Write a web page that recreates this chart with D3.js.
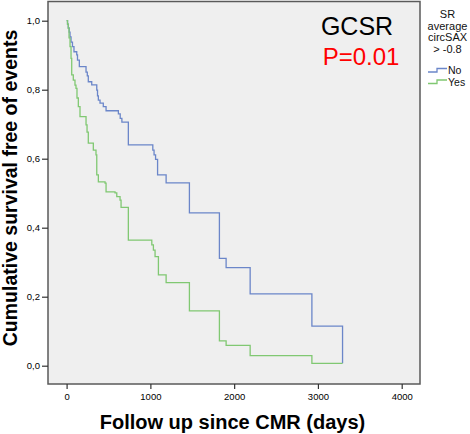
<!DOCTYPE html>
<html><head><meta charset="utf-8">
<script src="https://cdn.jsdelivr.net/npm/d3@7"></script>
<style>html,body{margin:0;padding:0;background:#fff}svg{display:block}</style>
</head><body><svg id="c" width="470" height="434"></svg>
<script>
const xTicks = [0, 1000, 2000, 3000, 4000];
const yTicks = [0, 0.2, 0.4, 0.6, 0.8, 1.0];
const yTickLabels = ["0,0", "0,2", "0,4", "0,6", "0,8", "1,0"];
const seriesNames = ["No", "Yes"];
const noTimes = [0,11,20,31,41,53,70,88,121,130,152,232,247,259,300,360,369,379,399,438,471,618,640,660,737,1029,1044,1062,1086,1188,1466,1824,1904,2191,2928,3294];
const noSurv = [1,0.990,0.979,0.967,0.953,0.938,0.925,0.910,0.901,0.886,0.867,0.851,0.840,0.823,0.814,0.799,0.782,0.770,0.761,0.751,0.739,0.730,0.717,0.706,0.640,0.625,0.611,0.598,0.553,0.530,0.443,0.311,0.284,0.208,0.115,0.007];
const yesTimes = [0,11,20,29,41,53,61,80,100,112,124,140,160,232,244,259,319,351,360,379,459,471,578,599,638,650,737,1017,1036,1056,1096,1188,1466,1824,1904,2191,2928,3294];
const yesSurv = [1,0.990,0.978,0.950,0.925,0.891,0.843,0.828,0.813,0.804,0.776,0.751,0.722,0.698,0.677,0.645,0.625,0.611,0.553,0.533,0.529,0.504,0.501,0.490,0.480,0.459,0.364,0.350,0.335,0.316,0.263,0.241,0.159,0.072,0.059,0.029,0.007,0.007];
const colors = ["#6b86c9", "#80c872"];

const font = "'Liberation Sans', Arial, sans-serif";
const svg = d3.select("#c");
const frame = {l: 48, t: 1.5, r: 420, b: 384};
const x = d3.scaleLinear().domain([0, 4000]).range([66.6, 401.7]);
const y = d3.scaleLinear().domain([0, 1]).range([365.7, 20.7]);

svg.append("rect").attr("x", frame.l).attr("y", frame.t)
  .attr("width", frame.r - frame.l).attr("height", frame.b - frame.t)
  .attr("fill", "#efefef").attr("stroke", "#5a5a5a").attr("stroke-width", 1.5);

const yAxis = svg.append("g").attr("transform", `translate(${frame.l},0)`)
  .call(d3.axisLeft(y).tickValues(yTicks).tickSize(6).tickSizeOuter(0)
    .tickFormat((d, i) => yTickLabels[i]));
const xAxis = svg.append("g").attr("transform", `translate(0,${frame.b})`)
  .call(d3.axisBottom(x).tickValues(xTicks).tickSize(5).tickSizeOuter(0)
    .tickFormat(d3.format("d")));
[yAxis, xAxis].forEach(g => {
  g.select(".domain").remove();
  g.selectAll(".tick line").attr("stroke", "#333").attr("stroke-width", 1.2);
  g.selectAll(".tick text").attr("font-family", font).attr("font-size", "9.5px").attr("fill", "#000");
});
yAxis.selectAll(".tick text").attr("x", -8);
xAxis.selectAll(".tick text").attr("y", 9);

const line = d3.line().x(d => x(d[0])).y(d => y(d[1])).curve(d3.curveStepAfter);
const series = [d3.zip(noTimes, noSurv), d3.zip(yesTimes, yesSurv)];
series.forEach((s, i) => {
  svg.append("path").datum(s).attr("d", line).attr("fill", "none")
    .attr("stroke", colors[i]).attr("stroke-width", 1.3);
});

svg.append("text").attr("x", 357).attr("y", 35).attr("text-anchor", "middle")
  .attr("font-family", font).attr("font-size", "25px").attr("fill", "#000").text("GCSR");
svg.append("text").attr("x", 361).attr("y", 65).attr("text-anchor", "middle")
  .attr("font-family", font).attr("font-size", "24px").attr("fill", "#ff0000").text("P=0.01");

const legTitle = ["SR", "average", "circSAX", "> -0.8"];
legTitle.forEach((t, i) => {
  svg.append("text").attr("x", 447.5).attr("y", 18 + i * 11.7).attr("text-anchor", "middle")
    .attr("font-family", font).attr("font-size", "11px").attr("fill", "#111").text(t);
});
seriesNames.forEach((n, i) => {
  const by = 72 + i * 11.5;
  svg.append("path").attr("d", `M428,${by} H437 V${by - 3.5} H447`)
    .attr("fill", "none").attr("stroke", colors[i]).attr("stroke-width", 1.3);
  svg.append("text").attr("x", 448).attr("y", by + 2.3)
    .attr("font-family", font).attr("font-size", "10.5px").attr("fill", "#111").text(n);
});

svg.append("text").attr("transform", "translate(16.5,188) rotate(-90)").attr("text-anchor", "middle")
  .attr("font-family", font).attr("font-size", "19.5px").attr("font-weight", "bold").attr("fill", "#000")
  .text("Cumulative survival free of events");
svg.append("text").attr("x", 232.5).attr("y", 429).attr("text-anchor", "middle")
  .attr("font-family", font).attr("font-size", "20px").attr("font-weight", "bold").attr("fill", "#000")
  .text("Follow up since CMR (days)");
</script></body></html>
